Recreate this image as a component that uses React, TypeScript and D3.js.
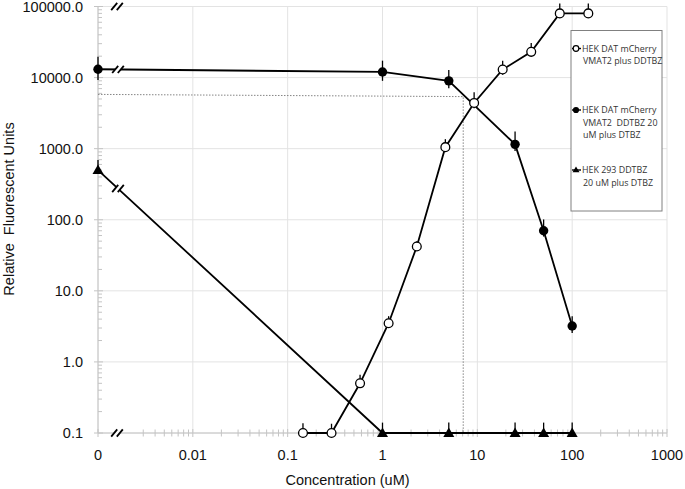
import React from "react";
import * as d3 from "d3";

// ---- data ----
const xTickValues = [0.001, 0.01, 0.1, 1, 10, 100, 1000];
const xTickLabels = ["0", "0.01", "0.1", "1", "10", "100", "1000"];
const yTickValues = [0.1, 1, 10, 100, 1000, 10000, 100000];
const yTickLabels = ["0.1", "1.0", "10.0", "100.0", "1000.0", "10000.0", "100000.0"];
const X_ZERO = 0.001; // "0" concentration plotted at the axis origin

const openConc = [0.145, 0.29, 0.58, 1.16, 2.3, 4.6, 9.25, 18.5, 37, 74, 148];
const openVal = [0.1, 0.1, 0.5, 3.5, 42, 1050, 4400, 13000, 23000, 80000, 80000];
const openHi = [0.137, 0.135, 0.66, 4.4, 50, 1360, 6200, 17300, 30700, 110000, 110000];
const openLo = [0.1, 0.1, 0.45, 3.1, 37, 900, 3700, 11000, 20000, 69000, 69000];

const filledConc = [0, 1, 5, 25, 50, 100];
const filledVal = [13100, 12000, 9000, 1150, 70, 3.2];
const filledHi = [19700, 17300, 12800, 1740, 101, 4.4];
const filledLo = [9250, 9000, 7050, 930, 58, 2.55];

const triConc = [0, 1, 5, 25, 50, 100];
const triVal = [500, 0.1, 0.1, 0.1, 0.1, 0.1];
const triHi = [690, 0.14, 0.14, 0.14, 0.14, 0.14];
const triLo = [500, 0.1, 0.1, 0.1, 0.1, 0.1];

const refConc = 7.1;
const refStartVal = 5800;
const refEndVal = 5400;

const legendLabels = [
  ["HEK DAT mCherry", "VMAT2 plus DDTBZ"],
  ["HEK DAT mCherry", "VMAT2  DDTBZ 20", "uM plus DTBZ"],
  ["HEK 293 DDTBZ", "20 uM plus DTBZ"],
];
const xTitle = "Concentration (uM)";
const yTitle = "Relative  Fluorescent Units";

// ---- layout ----
const W = 685, H = 489;
const x = d3.scaleLog().domain([0.001, 1000]).range([98, 667]);
const y = d3.scaleLog().domain([0.1, 100000]).range([433, 6.5]);
const xp = (c: number) => x(c === 0 ? X_ZERO : c);
const BREAK_X = 117;

const FONT = "'Liberation Sans', Arial, sans-serif";
const LFONT = "'Open Sans', sans-serif";

function Break({ cx, cy }: { cx: number; cy: number }) {
  const h = 3.6, w = 3;
  const s1 = cx - 2.8, s2 = cx + 2.8;
  return (
    <g>
      <polygon
        points={`${s1 - w},${cy + h} ${s1 + w},${cy - h} ${s2 + w},${cy - h} ${s2 - w},${cy + h}`}
        fill="#fff"
      />
      <line x1={s1 - w} y1={cy + h} x2={s1 + w} y2={cy - h} stroke="#000" strokeWidth={1.8} />
      <line x1={s2 - w} y1={cy + h} x2={s2 + w} y2={cy - h} stroke="#000" strokeWidth={1.8} />
    </g>
  );
}

function Series({
  conc, val, hi, lo, marker,
}: {
  conc: number[]; val: number[]; hi: number[]; lo: number[]; marker: "open" | "filled" | "tri";
}) {
  const line = d3.line<number>().x((_, i) => xp(conc[i])).y((v) => y(v));
  return (
    <g>
      <path d={line(val) || ""} fill="none" stroke="#000" strokeWidth={1.8} />
      {val.map((v, i) => (
        <line key={"e" + i} x1={xp(conc[i])} x2={xp(conc[i])} y1={y(hi[i])} y2={y(lo[i])} stroke="#000" strokeWidth={1.3} />
      ))}
      {val.map((v, i) => {
        const cx = xp(conc[i]), cy = y(v);
        if (marker === "open")
          return <circle key={i} cx={cx} cy={cy} r={4.4} fill="#fff" stroke="#000" strokeWidth={1.3} />;
        if (marker === "filled")
          return <circle key={i} cx={cx} cy={cy} r={4.7} fill="#000" />;
        return <path key={i} d={`M${cx},${cy - 5.5} L${cx + 5.5},${cy + 4} L${cx - 5.5},${cy + 4} Z`} fill="#000" />;
      })}
    </g>
  );
}

export default function App() {
  const minorX: number[] = [];
  for (let e = -3; e < 3; e++) for (let k = 2; k <= 9; k++) {
    const v = k * Math.pow(10, e);
    if (x(v) > BREAK_X + 12 || e > -3) minorX.push(v);
  }
  const minorY: number[] = [];
  for (let e = -1; e < 5; e++) for (let k = 2; k <= 9; k++) minorY.push(k * Math.pow(10, e));

  // line crossings at the break
  const t0x = xp(triConc[0]), t0y = y(triVal[0]), t1x = xp(triConc[1]), t1y = y(triVal[1]);
  const triBreakY = t0y + ((BREAK_X + 1 - t0x) * (t1y - t0y)) / (t1x - t0x);
  const f0y = y(filledVal[0]), f1y = y(filledVal[1]), f1x = xp(filledConc[1]);
  const filledBreakY = f0y + ((BREAK_X - xp(0)) * (f1y - f0y)) / (f1x - xp(0));

  const gridColor = "#e3e3e3";
  const axisColor = "#c4c4c4";

  return (
    <svg width={W} height={H} style={{ position: "absolute", left: 0, top: 0, background: "#fff" }}>
      {/* grid */}
      {xTickValues.map((v, i) => (
        <line key={"gx" + i} x1={x(v)} x2={x(v)} y1={y(100000)} y2={y(0.1)} stroke={gridColor} strokeWidth={1} />
      ))}
      {yTickValues.map((v, i) => (
        <line key={"gy" + i} x1={x(0.001)} x2={x(1000)} y1={y(v)} y2={y(v)} stroke={gridColor} strokeWidth={1} />
      ))}
      {/* axes */}
      <line x1={x(0.001)} x2={x(0.001)} y1={y(100000)} y2={y(0.1)} stroke={axisColor} strokeWidth={1} />
      <line x1={x(0.001)} x2={x(1000)} y1={y(0.1)} y2={y(0.1)} stroke={axisColor} strokeWidth={1} />
      {minorX.map((v, i) => (
        <line key={"mx" + i} x1={x(v)} x2={x(v)} y1={y(0.1) - 3.5} y2={y(0.1) + 3.5} stroke={axisColor} strokeWidth={1} />
      ))}
      {xTickValues.map((v, i) => (
        <line key={"tx" + i} x1={x(v)} x2={x(v)} y1={y(0.1) - 4} y2={y(0.1) + 4} stroke={axisColor} strokeWidth={1} />
      ))}
      {minorY.map((v, i) => (
        <line key={"my" + i} x1={x(0.001)} x2={x(0.001) + 4} y1={y(v)} y2={y(v)} stroke={axisColor} strokeWidth={1} />
      ))}
      {yTickValues.map((v, i) => (
        <line key={"ty" + i} x1={x(0.001) - 4} x2={x(0.001) + 5} y1={y(v)} y2={y(v)} stroke={axisColor} strokeWidth={1} />
      ))}
      {/* tick labels */}
      {xTickValues.map((v, i) => (
        <text key={"lx" + i} x={x(v)} y={460} textAnchor="middle" fontFamily={FONT} fontSize={14.5} fill="#111">
          {xTickLabels[i]}
        </text>
      ))}
      {yTickValues.map((v, i) => (
        <text key={"ly" + i} x={83} y={y(v) + 5.2} textAnchor="end" fontFamily={FONT} fontSize={14.5} fill="#111">
          {yTickLabels[i]}
        </text>
      ))}
      <text x={347.5} y={485} textAnchor="middle" fontFamily={FONT} fontSize={14.5} fill="#111">{xTitle}</text>
      <text transform="translate(14,209) rotate(-90)" textAnchor="middle" fontFamily={FONT} fontSize={14.5} fill="#111" style={{ whiteSpace: "pre" }}>{yTitle}</text>

      {/* reference dotted lines */}
      <path
        d={`M${xp(0)},${y(refStartVal)} L${x(refConc)},${y(refEndVal)} L${x(refConc)},${y(0.1)}`}
        fill="none" stroke="#777" strokeWidth={0.9} strokeDasharray="1.5,1.5"
      />

      {/* series */}
      <Series conc={triConc} val={triVal} hi={triHi} lo={triLo} marker="tri" />
      <Series conc={filledConc} val={filledVal} hi={filledHi} lo={filledLo} marker="filled" />
      <Series conc={openConc} val={openVal} hi={openHi} lo={openLo} marker="open" />

      {/* axis breaks */}
      <Break cx={BREAK_X} cy={y(100000)} />
      <Break cx={BREAK_X} cy={y(0.1)} />
      <Break cx={BREAK_X + 1} cy={filledBreakY} />
      <Break cx={BREAK_X + 1} cy={triBreakY} />

      {/* legend */}
      <rect x={571} y={30.5} width={91} height={180.5} fill="#fff" stroke="#808080" strokeWidth={1} />
      {legendLabels.map((lines, i) => {
        const top = [48.5, 110, 170][i];
        const mk = ["open", "filled", "tri"][i];
        return (
          <g key={"lg" + i}>
            <line x1={572} x2={581} y1={top} y2={top} stroke="#000" strokeWidth={1.4} />
            {mk === "open" && <circle cx={576} cy={top} r={2.8} fill="#fff" stroke="#000" strokeWidth={1.2} />}
            {mk === "filled" && <circle cx={576} cy={top} r={3.1} fill="#000" />}
            {mk === "tri" && <path d={`M576,${top - 3.5} L579.5,${top + 2.2} L572.5,${top + 2.2} Z`} fill="#000" />}
            {lines.map((t, j) => (
              <text key={j} x={j === 0 ? 582 : 583} y={top + 3.3 + j * 12.4} fontFamily={LFONT} fontSize={8.9} fill="#333" style={{ whiteSpace: "pre" }}>
                {t}
              </text>
            ))}
          </g>
        );
      })}
    </svg>
  );
}
